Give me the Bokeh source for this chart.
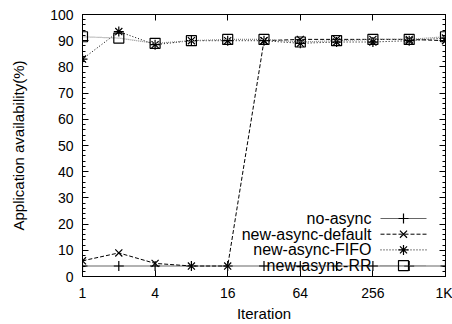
from bokeh.plotting import figure
from bokeh.models import (Label, LinearAxis, LogAxis, FixedTicker, LinearScale,
                          SingleIntervalTicker, Range1d, CustomLabelingPolicy)
from bokeh.embed import file_html
from bokeh.resources import INLINE

# ---- data ----
iterations = [1, 2, 4, 8, 16, 32, 64, 128, 256, 512, 1024]
no_async = [4, 4, 4, 4, 4, 4, 4, 4, 4, 4, 4]
new_async_default = [6, 9, 5, 4, 4, 90, 90.5, 90.5, 90.5, 90.5, 90]
new_async_fifo = [83, 93.5, 88.5, 90, 90, 90, 89, 89.5, 89.5, 90, 91]
new_async_rr = [91.5, 91, 89, 90, 90.5, 90.5, 89.5, 90, 90.5, 90.5, 91.5]
series_names = ["no-async", "new-async-default", "new-async-FIFO", "new-async-RR"]
x_ticks = [1, 4, 16, 64, 256, 1024]
x_tick_labels = ["1", "4", "16", "64", "256", "1K"]
y_tick_step = 10
x_title = "Iteration"
y_title = "Application availability(%)"

FONT = "Liberation Sans"
FRAME_W, FRAME_H = 363, 262

p = figure(width=452, height=324, x_axis_type="log",
           x_range=Range1d(1, 1024), y_range=Range1d(0, 100),
           output_backend="svg", toolbar_location=None,
           min_border_left=82, min_border_right=7,
           min_border_top=14, min_border_bottom=48)
p.grid.visible = False
p.outline_line_color = "black"
p.background_fill_color = "white"
p.border_fill_color = "white"
# pixel-space ranges for the gnuplot-style key
p.extra_x_ranges = {"px": Range1d(0, FRAME_W)}
p.extra_y_ranges = {"px": Range1d(0, FRAME_H)}
p.extra_x_scales = {"px": LinearScale()}
p.extra_y_scales = {"px": LinearScale()}

def style_axis(ax, labels=True):
    ax.axis_line_color = "black"
    ax.major_tick_line_color = "black"
    ax.minor_tick_line_color = "black"
    ax.major_tick_in = 6
    ax.major_tick_out = 0
    ax.minor_tick_in = 3
    ax.minor_tick_out = 0
    ax.major_label_text_font = FONT
    ax.major_label_text_color = "black"
    ax.major_label_text_font_size = "14px"
    ax.axis_label_text_font = FONT
    ax.axis_label_text_font_style = "normal"
    ax.axis_label_text_color = "black"
    ax.axis_label_text_font_size = "15px"
    if not labels:
        # mirror axis: ticks only, no labels drawn and no space reserved
        ax.major_label_policy = CustomLabelingPolicy(code="return new Set()")
        ax.major_label_text_font_size = "0px"
        ax.major_label_standoff = 0

xa = p.xaxis[0]
xa.ticker = FixedTicker(ticks=x_ticks, minor_ticks=[])
xa.major_label_overrides = {t: l for t, l in zip(x_ticks, x_tick_labels)}
xa.axis_label = x_title
style_axis(xa)
xa.major_label_standoff = 8
xa.axis_label_standoff = 1

ya = p.yaxis[0]
ya.ticker = SingleIntervalTicker(interval=y_tick_step, num_minor_ticks=5)
ya.axis_label = y_title
style_axis(ya)
ya.major_label_standoff = 9
ya.axis_label_standoff = 20

top = LogAxis(ticker=FixedTicker(ticks=x_ticks, minor_ticks=[]))
style_axis(top, labels=False)
p.add_layout(top, "above")
right = LinearAxis(ticker=SingleIntervalTicker(interval=y_tick_step, num_minor_ticks=5))
style_axis(right, labels=False)
p.add_layout(right, "right")

# ---- series styles ----
styles = [
    dict(line=dict(line_color="#666666", line_width=1.2),
         mark=dict(marker="cross", line_color="black", line_width=1.2)),
    dict(line=dict(line_color="black", line_width=1, line_dash="4 2"),
         mark=dict(marker="x", line_color="black", line_width=1.2)),
    dict(line=dict(line_color="black", line_width=1, line_dash="1 2"),
         mark=dict(marker="asterisk", line_color="black", line_width=1.2)),
    dict(line=dict(line_color="#888888", line_width=1.2, line_dash="1 1"),
         mark=dict(marker="square", line_color="black", fill_alpha=0, line_width=1.2)),
]
series = [no_async, new_async_default, new_async_fifo, new_async_rr]

for ys, st in zip(series, styles):
    p.line(iterations, ys, **st["line"])
    p.scatter(iterations, ys, size=10, **st["mark"])

# ---- key (text right-aligned, sample to its right) ----
KEY_TEXT_X = 289
KEY_X0, KEY_X1 = 298, 344
KEY_TOP, KEY_STEP = 58, 15.7

for i, (name, st) in enumerate(zip(series_names, styles)):
    yk = KEY_TOP - i * KEY_STEP
    p.line([KEY_X0, KEY_X1], [yk, yk], x_range_name="px", y_range_name="px", **st["line"])
    p.scatter([(KEY_X0 + KEY_X1) / 2], [yk], size=10, x_range_name="px",
              y_range_name="px", **st["mark"])
    p.add_layout(Label(x=KEY_TEXT_X, y=yk, x_units="screen", y_units="screen",
                       text=name, text_align="right", text_baseline="middle",
                       text_font=FONT, text_font_size="16px", text_color="black"))

open("out.html", "w").write(file_html(p, INLINE))
